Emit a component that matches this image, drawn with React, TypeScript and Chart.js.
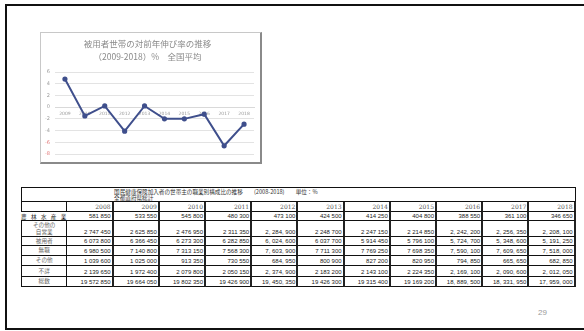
import React, { useEffect, useRef } from 'react';
import { Chart, registerables } from 'chart.js';

Chart.register(...registerables);

// ---- chart data ----
const chartTitle = ['被用者世帯の対前年伸び率の推移', '（2009-2018）%　全国平均'];
const chartYears = ['2009', '2010', '2011', '2012', '2013', '2014', '2015', '2016', '2017', '2018'];
const growthRates = [4.8, -1.5, 0.2, -4.1, 0.2, -2.0, -2.0, -1.2, -6.6, -2.9];
const yMin = -8;
const yMax = 6;
const yStep = 2;

// ---- table data ----
const tableTitle = '国民健康保険加入者の世帯主の職業別構成比の推移　　(2008-2018)　　単位：%';
const tableSubtitle = '全都道府県総計';
const tableYears = ['2008', '2009', '2010', '2011', '2012', '2013', '2014', '2015', '2016', '2017', '2018'];
const commaYears = ['2012', '2016', '2017', '2018'];
const rowLabels = ['農 林 水 産 業', 'その他の\n自営業', '被用者', '無職', 'その他', '不詳', '総数'];
const farming = [581850, 533550, 545800, 480300, 473100, 424500, 414250, 404800, 388550, 361100, 346650];
const otherSelfEmployed = [2747450, 2625850, 2476950, 2311350, 2284900, 2248700, 2247150, 2214850, 2242200, 2256350, 2208100];
const employees = [6073800, 6366450, 6273300, 6282850, 6024600, 6037700, 5914450, 5796100, 5724700, 5348600, 5191250];
const unemployed = [6980500, 7140800, 7313150, 7568300, 7603900, 7711300, 7769250, 7698350, 7590100, 7609650, 7518000];
const others = [1039600, 1025000, 913350, 730550, 684950, 800900, 827200, 820950, 794850, 665650, 682850];
const unknown = [2139650, 1972400, 2079800, 2050150, 2374900, 2183200, 2143100, 2224350, 2169100, 2090600, 2012050];
const totals = [19572850, 19664050, 19802350, 19426900, 19450350, 19426300, 19315400, 19169200, 18889500, 18331950, 17959000];
const tableRows = [farming, otherSelfEmployed, employees, unemployed, others, unknown, totals];
const pageNumber = '29';

function formatNum(v: number, year: string, rowIdx: number): string {
  const s = String(v);
  const parts: string[] = [];
  for (let i = s.length; i > 0; i -= 3) parts.unshift(s.slice(Math.max(0, i - 3), i));
  const useComma = commaYears.includes(year) && rowIdx !== 0;
  return parts.join(useComma ? ', ' : ' ');
}

function LineChart() {
  const ref = useRef<HTMLCanvasElement>(null);
  useEffect(() => {
    const chart = new Chart(ref.current as HTMLCanvasElement, {
      type: 'line',
      data: {
        labels: chartYears,
        datasets: [
          {
            data: growthRates,
            borderColor: '#3f4f8c',
            backgroundColor: '#3f4f8c',
            pointBackgroundColor: '#3f4f8c',
            pointBorderColor: '#3f4f8c',
            borderWidth: 2,
            pointRadius: 1.6,
            tension: 0,
          },
        ],
      },
      options: {
        animation: false,
        responsive: false,
        maintainAspectRatio: false,
        layout: { padding: { left: 0, right: 6, top: 0, bottom: 5 } },
        plugins: {
          legend: { display: false },
          tooltip: { enabled: false },
          title: {
            display: true,
            text: chartTitle,
            color: '#8a8a8a',
            font: { family: '"Noto Sans CJK JP", sans-serif', size: 8.5, weight: 'normal', lineHeight: 13 / 8.5 },
            padding: { top: 4.5, bottom: 8.5 },
          },
        },
        scales: {
          x: {
            position: { y: 0 } as any,
            offset: true,
            grid: { display: false, drawTicks: false },
            border: { color: '#d9d9d9', width: 1 },
            ticks: {
              color: '#9a9a9a',
              font: { size: 4.5, family: 'DejaVu Sans' },
              padding: 4,
              autoSkip: false,
              maxRotation: 0,
            },
          },
          y: {
            min: yMin,
            max: yMax,
            ticks: {
              stepSize: yStep,
              color: (ctx: any) => (ctx.tick && ctx.tick.value <= -6 ? '#e27878' : '#9a9a9a'),
              font: { size: 5, family: 'DejaVu Sans' },
              padding: 5,
            },
            grid: { color: '#e3e3e3', drawTicks: false, lineWidth: 1 },
            border: { display: false },
            afterFit: (s: any) => {
              s.width = 14;
            },
          },
        },
      },
    });
    return () => chart.destroy();
  }, []);
  return <canvas ref={ref} width={219} height={129} style={{ display: 'block' }} />;
}

const T_LEFT = 21;
const T_TOP = 187;
const FIRST_W = 46.4;
const COL_W = 46.2;
const TITLE_H = 15;
const HEAD_H = 10;
const ROW_H = [9, 16, 9, 10, 10, 11, 10];
const TOTAL_W = FIRST_W + COL_W * tableYears.length;

function DataTable() {
  const cells: React.ReactNode[] = [];
  // title row
  cells.push(
    <div
      key="title"
      style={{
        position: 'absolute',
        left: 0,
        top: 0,
        width: TOTAL_W,
        height: TITLE_H,
        boxSizing: 'border-box',
        borderTop: '1px solid #111',
        borderLeft: '1px solid #111',
        borderRight: '1px solid #111',
        borderBottom: '1px solid #111',
      }}
    >
      <div
        style={{
          position: 'absolute',
          left: FIRST_W + COL_W - 0.5,
          top: 0.5,
          fontSize: 5.6,
          lineHeight: '6.4px',
          color: '#333',
          whiteSpace: 'pre',
          fontFamily: '"Noto Sans CJK JP", sans-serif',
        }}
      >
        {tableTitle + '\n' + tableSubtitle}
      </div>
    </div>
  );
  // header row
  let y = TITLE_H;
  cells.push(
    <div
      key="h0"
      style={{
        position: 'absolute',
        left: 0,
        top: y,
        width: FIRST_W,
        height: HEAD_H,
        boxSizing: 'border-box',
        borderLeft: '1px solid #111',
        borderRight: '1px solid #111',
        borderBottom: '1px solid #111',
      }}
    />
  );
  tableYears.forEach((yr, i) => {
    cells.push(
      <div
        key={'h' + yr}
        style={{
          position: 'absolute',
          left: FIRST_W + COL_W * i,
          top: y,
          width: COL_W,
          height: HEAD_H,
          boxSizing: 'border-box',
          borderRight: '2px solid #222',
          borderBottom: '1px solid #111',
          display: 'flex',
          alignItems: 'center',
          justifyContent: 'flex-end',
          paddingRight: 1,
          fontSize: 6,
          color: '#555',
          fontFamily: '"DejaVu Serif", serif',
        }}
      >
        {yr}
      </div>
    );
  });
  y += HEAD_H;
  rowLabels.forEach((label, r) => {
    const h = ROW_H[r];
    const isFirst = r === 0;
    cells.push(
      <div
        key={'l' + r}
        style={{
          position: 'absolute',
          left: 0,
          top: y,
          width: FIRST_W,
          height: h,
          boxSizing: 'border-box',
          borderLeft: isFirst ? 'none' : '1px solid #111',
          borderRight: isFirst ? 'none' : '1px solid #111',
          borderBottom: '1px solid #111',
          display: 'flex',
          alignItems: isFirst ? 'flex-end' : 'center',
          justifyContent: isFirst ? 'space-between' : 'center',
          textAlign: 'center',
          whiteSpace: 'pre',
          fontSize: 5.6,
          lineHeight: '6.5px',
          color: isFirst ? '#222' : '#666',
          fontFamily: '"Noto Sans CJK JP", sans-serif',
          paddingRight: isFirst ? 1 : 0,
        }}
      >
        {isFirst ? label.split(' ').map((c, k) => <span key={k}>{c}</span>) : label}
      </div>
    );
    tableRows[r].forEach((v, c) => {
      cells.push(
        <div
          key={'c' + r + '_' + c}
          style={{
            position: 'absolute',
            left: FIRST_W + COL_W * c,
            top: y,
            width: COL_W,
            height: h,
            boxSizing: 'border-box',
            borderRight: '2px solid #222',
            borderBottom: '1px solid #111',
            display: 'flex',
            alignItems: 'flex-end',
            justifyContent: 'flex-end',
            paddingRight: 1,
            fontSize: 6,
            lineHeight: '7px',
            color: '#222',
            fontFamily: '"Liberation Sans", sans-serif',
            whiteSpace: 'pre',
          }}
        >
          {formatNum(v, tableYears[c], r)}
        </div>
      );
    });
    y += h;
  });
  return (
    <div style={{ position: 'absolute', left: T_LEFT, top: T_TOP, width: TOTAL_W, height: y }}>{cells}</div>
  );
}

export default function App() {
  return (
    <div
      style={{
        position: 'absolute',
        left: 0,
        top: 0,
        width: 584,
        height: 331,
        overflow: 'hidden',
        background: '#fff',
      }}
    >
      <div
        style={{
          position: 'absolute',
          left: 5,
          top: 4,
          width: 620,
          height: 326,
          boxSizing: 'border-box',
          borderTop: '2px solid #111',
          borderLeft: '2px solid #111',
          borderBottom: '2px solid #111',
        }}
      />
      <div
        style={{
          position: 'absolute',
          left: 40,
          top: 32,
          width: 222,
          height: 132,
          boxSizing: 'border-box',
          borderTop: '1px solid #c8c8c8',
          borderLeft: '1px solid #c8c8c8',
          borderRight: '2px solid #8a8a8a',
          borderBottom: '2px solid #8a8a8a',
          background: '#fff',
        }}
      >
        <LineChart />
      </div>
      <DataTable />
      <div
        style={{
          position: 'absolute',
          left: 538,
          top: 308,
          fontSize: 8,
          color: '#9a9a9a',
          fontFamily: '"Liberation Sans", sans-serif',
        }}
      >
        {pageNumber}
      </div>
    </div>
  );
}
